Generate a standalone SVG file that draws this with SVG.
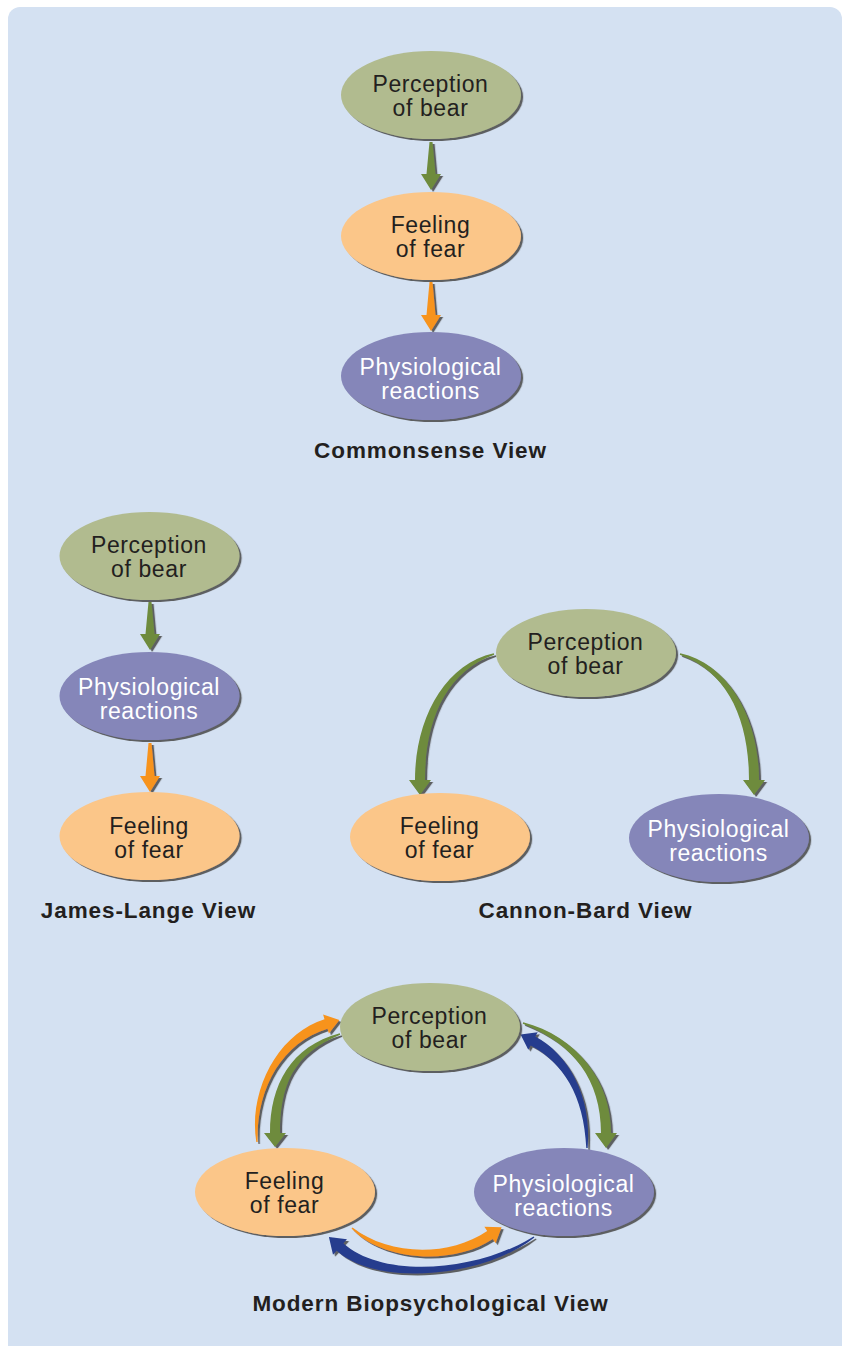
<svg xmlns="http://www.w3.org/2000/svg" width="843" height="1346" viewBox="0 0 843 1346">
<defs>
<filter id="sh" x="-20%" y="-20%" width="140%" height="140%">
<feDropShadow dx="2.2" dy="2" stdDeviation="0.7" flood-color="#4a4a4a" flood-opacity="0.85"/>
</filter>
<style>
.perc{fill:#b1bb8f;filter:url(#sh)}
.feel{fill:#fbc689;filter:url(#sh)}
.phys{fill:#8586b9;filter:url(#sh)}
text{font-family:"Liberation Sans",Arial,Helvetica,sans-serif}
.lbl{font-size:23px;letter-spacing:0.6px;text-anchor:middle;fill:#231f20}
.lblw{font-size:23px;letter-spacing:0.6px;text-anchor:middle;fill:#ffffff}
.ttl{font-size:22.5px;font-weight:bold;letter-spacing:0.9px;text-anchor:middle;fill:#231f20}
.g{fill:#6e8b3d;filter:url(#sh)}
.o{fill:#f7931e;filter:url(#sh)}
.b{fill:#263d8e;filter:url(#sh)}
</style>
</defs>
<rect x="0" y="0" width="843" height="1346" fill="#ffffff"/>
<rect id="panel" x="8" y="7" width="834" height="1352" rx="12" fill="#d4e1f2"/>

<g id="connectors">
<!-- Commonsense -->
<path class="g" d="M429.5 142 L432.5 142 L435.5 174 L441 174 L431 190 L421 174 L426.5 174 Z"/>
<path class="o" d="M429.5 282 L432.5 282 L435.5 315 L441 315 L431 331 L421 315 L426.5 315 Z"/>
<!-- James-Lange -->
<path class="g" d="M148.5 602 L151.5 602 L154.5 634 L160 634 L150 650 L140 634 L145.5 634 Z"/>
<path class="o" d="M148.5 743 L151.5 743 L154.5 776 L160 776 L150 792 L140 776 L145.5 776 Z"/>
<!-- Cannon-Bard -->
<path class="g" d="M493.8 653.2 C443.9 664.2 415 720 415 780 L409 780 L420 795 L431 780 L425 780 C425 720 446.1 671.8 494.2 654.8 Z"/>
<path class="g" d="M680.2 653.2 C730.1 664.2 759 720 759 780 L765 780 L754 795 L743 780 L749 780 C749 720 727.9 671.8 679.8 654.8 Z"/>
<!-- Modern -->
<path class="o" d="M257.7 1141.9 C256 1089.6 281.5 1042.8 327.5 1028.8 L328.9 1033.6 L339.4 1019.9 L323.1 1014.4 L324.5 1019.2 C278.5 1033.2 248 1090.4 256.3 1142.1 Z"/>
<path class="g" d="M339.8 1033.3 C290.7 1046.2 270 1085 270 1133 L264 1133 L275 1147 L286 1133 L280 1133 C280 1085 293.3 1053.8 340.2 1034.7 Z"/>
<path class="g" d="M522.8 1023.7 C573.8 1043.8 601 1080 601 1133 L595 1133 L606 1148 L617 1133 L611 1133 C611 1080 576.2 1036.2 523.2 1022.3 Z"/>
<path class="b" d="M587.7 1148 C592 1095.1 567.3 1053.6 535.3 1036.6 L537.7 1032.2 L520.6 1034.4 L528.3 1049.8 L530.7 1045.4 C562.7 1062.4 584 1094.9 586.3 1148 Z"/>
<path class="o" d="M351.5 1228.5 C382.3 1261 452.8 1266.1 492.8 1239.1 L495.6 1243.3 L501.6 1227.2 L484.4 1226.7 L487.2 1230.9 C447.2 1257.9 387.7 1255 352.5 1227.5 Z"/>
<path class="b" d="M533.6 1236.4 C477.7 1271.7 383.3 1279.3 343.3 1243.3 L347 1239.2 L328.9 1237 L333 1254.8 L336.7 1250.7 C376.7 1286.7 482.3 1278.3 534.4 1237.6 Z"/>
</g>

<!-- Commonsense View -->
<g id="cs-perception">
<ellipse class="perc" cx="431" cy="95" rx="90" ry="44"/>
<text class="lbl" x="430.5" y="92">Perception</text>
<text class="lbl" x="430.5" y="116">of bear</text>
</g>
<g id="cs-feeling">
<ellipse class="feel" cx="431" cy="236" rx="90" ry="44"/>
<text class="lbl" x="430.5" y="233">Feeling</text>
<text class="lbl" x="430.5" y="257">of fear</text>
</g>
<g id="cs-physio">
<ellipse class="phys" cx="431" cy="376" rx="90" ry="44"/>
<text class="lblw" x="430.5" y="375">Physiological</text>
<text class="lblw" x="430.5" y="399">reactions</text>
</g>
<text id="cs-title" class="ttl" x="430.5" y="458">Commonsense View</text>

<!-- James-Lange View -->
<g id="jl-perception">
<ellipse class="perc" cx="149.5" cy="556" rx="90" ry="44"/>
<text class="lbl" x="149" y="553">Perception</text>
<text class="lbl" x="149" y="577">of bear</text>
</g>
<g id="jl-physio">
<ellipse class="phys" cx="149.5" cy="696" rx="90" ry="44"/>
<text class="lblw" x="149" y="695">Physiological</text>
<text class="lblw" x="149" y="719">reactions</text>
</g>
<g id="jl-feeling">
<ellipse class="feel" cx="149.5" cy="836" rx="90" ry="44"/>
<text class="lbl" x="149" y="834">Feeling</text>
<text class="lbl" x="149" y="858">of fear</text>
</g>
<text id="jl-title" class="ttl" x="148.5" y="918">James-Lange View</text>

<!-- Cannon-Bard View -->
<g id="cb-perception">
<ellipse class="perc" cx="586" cy="653" rx="90" ry="44"/>
<text class="lbl" x="585.5" y="650">Perception</text>
<text class="lbl" x="585.5" y="674">of bear</text>
</g>
<g id="cb-feeling">
<ellipse class="feel" cx="440" cy="837" rx="90" ry="44"/>
<text class="lbl" x="439.5" y="834">Feeling</text>
<text class="lbl" x="439.5" y="858">of fear</text>
</g>
<g id="cb-physio">
<ellipse class="phys" cx="719" cy="838" rx="90" ry="44"/>
<text class="lblw" x="718.5" y="837">Physiological</text>
<text class="lblw" x="718.5" y="861">reactions</text>
</g>
<text id="cb-title" class="ttl" x="585.5" y="918">Cannon-Bard View</text>

<!-- Modern Biopsychological View -->
<g id="mb-perception">
<ellipse class="perc" cx="430" cy="1027" rx="90" ry="44"/>
<text class="lbl" x="429.5" y="1024">Perception</text>
<text class="lbl" x="429.5" y="1048">of bear</text>
</g>
<g id="mb-feeling">
<ellipse class="feel" cx="285" cy="1192" rx="90" ry="44"/>
<text class="lbl" x="284.5" y="1189">Feeling</text>
<text class="lbl" x="284.5" y="1213">of fear</text>
</g>
<g id="mb-physio">
<ellipse class="phys" cx="564" cy="1192" rx="90" ry="44"/>
<text class="lblw" x="563.5" y="1192">Physiological</text>
<text class="lblw" x="563.5" y="1216">reactions</text>
</g>
<text id="mb-title" class="ttl" x="430.5" y="1311">Modern Biopsychological View</text>
</svg>
